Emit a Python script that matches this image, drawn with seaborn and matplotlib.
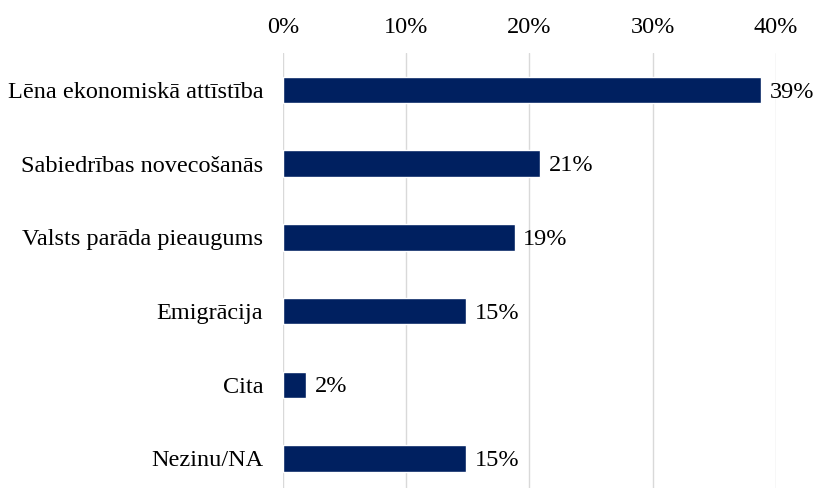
import matplotlib
matplotlib.use("Agg")
import matplotlib.pyplot as plt
import seaborn as sns
import pandas as pd
from matplotlib.ticker import FuncFormatter

sns.set_theme(style="white")
plt.rcParams['font.family'] = ['Liberation Serif', 'DejaVu Serif']
plt.rcParams['text.color'] = 'black'
plt.rcParams['xtick.color'] = 'black'
plt.rcParams['ytick.color'] = 'black'

# dati
categories = ["Lēna ekonomiskā attīstība", "Sabiedrības novecošanās", "Valsts parāda pieaugums",
              "Emigrācija", "Cita", "Nezinu/NA"]
values = [38.8, 20.9, 18.8, 14.9, 1.9, 14.9]
labels = ["39%", "21%", "19%", "15%", "2%", "15%"]

df = pd.DataFrame({"Category": categories, "Value": values})

fig = plt.figure(figsize=(8.15, 4.88), dpi=100)
ax = fig.add_axes([0.347, -0.015, 0.605, 0.906])

sns.barplot(x="Value", y="Category", data=df, color="#002060", saturation=1, width=0.36,
            orient="h", ax=ax, zorder=3)

ax.set_xlim(0, 40)
ax.set_xticks([0, 10, 20, 30, 40])
ax.xaxis.set_major_formatter(FuncFormatter(lambda v, p: f"{int(v)}%"))
ax.xaxis.tick_top()
ax.grid(axis="x", color="#d9d9d9", linewidth=1, zorder=0)
ax.set_axisbelow(True)
for s in ax.spines.values():
    s.set_visible(False)
ax.tick_params(axis="both", length=0, labelsize=17.5, pad=11)
ax.tick_params(axis="y", pad=14)
ax.set_xlabel("")
ax.set_ylabel("")

for i, (v, l) in enumerate(zip(values, labels)):
    ax.text(v + 0.7, i + 0.03, l, va="center", ha="left", fontsize=17.5, color="black")

plt.savefig("out.png", dpi=100)
